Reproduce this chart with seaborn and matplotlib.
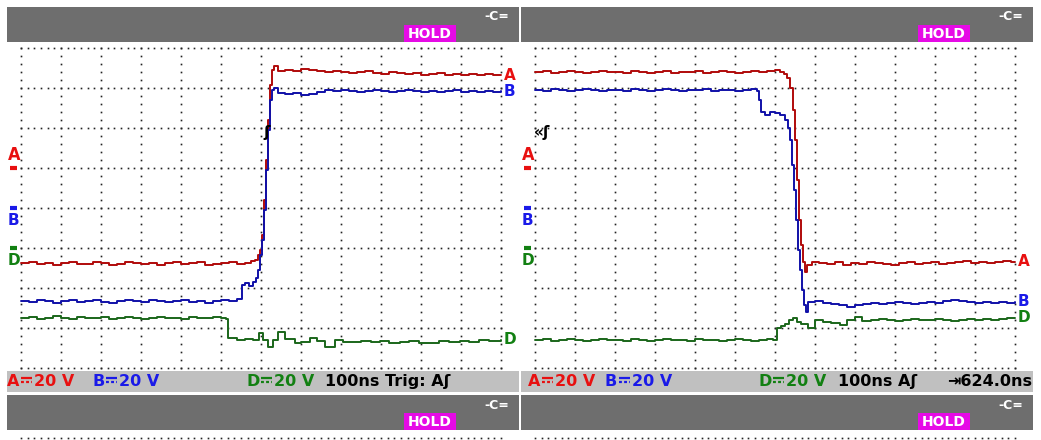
import numpy as np
import pandas as pd
import matplotlib
matplotlib.use("Agg")
import matplotlib.pyplot as plt
import seaborn as sns
from matplotlib.patches import Rectangle
from matplotlib.lines import Line2D

W, H = 1041, 440

# ------------------------------------------------------------------
# Trace data: time in ns (100 ns/div), level in volts (20 V/div)
# ------------------------------------------------------------------
left_a_t = list(range(0, 561, 20)) + [575, 585, 592, 597, 602, 607, 612, 617, 622, 627, 632, 642] \
    + list(range(660, 1201, 20))
left_a_v = [-47.5, -47, -48, -47.5, -48.5, -47.5, -47, -48, -48, -47, -47.5, -48.5, -48, -47, -47.5,
            -48, -47.5, -48.5, -47.5, -47, -48, -47.5, -47, -48.5, -48, -47.5, -47, -48, -47.5,
            -46.5, -46, -43.5, -41, -33.5, -16, 4, 24, 41.5, 49, 51, 48.5,
            49, 48.5, 49.5, 49, 48.5, 48, 48.5, 48, 47.5, 48, 48.5, 47.5, 47, 48, 47.5, 47, 47.5,
            46.5, 47, 47.5, 46.5, 47, 46.5, 47, 46.5, 47, 46.5, 46.5]

left_b_t = list(range(0, 541, 20)) + [552, 560, 570, 580, 587, 592, 597, 602, 607, 612, 617, 622,
                                      627, 632, 642] + list(range(660, 1201, 20))
left_b_v = [-46.5, -47, -46, -46.5, -47.5, -46.5, -46, -47, -46.5, -46, -47, -47.5, -46.5, -46,
            -46.5, -47, -46, -46.5, -47, -46.5, -46, -47, -46.5, -47.5, -46.5, -46, -46.5, -45.5,
            -38.5, -37.5, -39, -37, -35, -31, -23.5, -16, -1, 19, 39, 54, 59, 60, 57.5,
            57, 57.5, 56.5, 57, 58, 59, 58.5, 59, 58.5, 58, 58.5, 59, 58.5, 58, 58.5, 59, 58.5,
            58, 58.5, 58, 58.5, 59, 58, 58.5, 58, 58.5, 58, 58.5]

left_d_t = list(range(0, 501, 20)) + [512, 518, 540, 560, 580, 595, 605, 617, 630, 642, 660, 685,
                                      700, 722, 740, 760, 785, 805, 822, 850, 875, 898, 920, 948,
                                      970, 995, 1022, 1045, 1070, 1098, 1120, 1145, 1170, 1200]
left_d_v = [-35, -34.5, -35.5, -35, -34, -35, -35.5, -34.5, -35, -35, -34.5, -35.5, -35, -34.5,
            -35, -35.5, -35, -34.5, -35, -35, -35.5, -34.5, -35, -35, -34.5, -35,
            -35.5, -45, -46, -45.5, -46, -42.5, -46, -49.5, -46, -42, -45.5, -47.5, -47, -45,
            -46.5, -49.5, -46, -47, -47, -46.5, -47, -46.5, -47.5, -47, -46.5, -47.5, -47.5,
            -46.5, -47, -46.5, -47, -46, -46.5, -46]

right_a_t = list(range(0, 601, 20)) + [612, 622, 630, 637, 645, 650, 655, 660, 665, 670, 675, 680,
                                       692] + list(range(710, 1191, 20)) + [1200]
right_a_v = [48, 48.5, 47.5, 48, 48.5, 48, 47.5, 48, 48.5, 48, 48, 47.5, 48.5, 48, 47.5, 48, 48.5,
             47.5, 48, 48, 48.5, 47.5, 48, 48.5, 48, 47.5, 48, 48.5, 48, 48.5, 49,
             48, 47, 45, 40, 29, 14, -6, -26, -38.5, -47, -52, -48.5, -47,
             -47.5, -48, -47, -48.5, -47.5, -48, -47, -47.5, -48, -48.5, -47.5, -47, -48, -47.5,
             -47, -48, -47.5, -47, -46.5, -47.5, -47, -47.5, -47, -46.5, -47, -47]

right_b_t = list(range(0, 541, 20)) + [555, 560, 565, 575, 587, 600, 612, 625, 632, 637, 642, 647,
                                       652, 657, 662, 667, 672, 677, 682, 700] \
    + list(range(720, 1201, 20))
right_b_v = [59, 58.5, 59.5, 59, 58.5, 59, 59.5, 59, 58.5, 59, 59, 58.5, 59.5, 59, 58.5, 59, 59.5,
             59, 58.5, 59, 59, 59.5, 58.5, 59, 59, 58.5, 59, 59.5,
             58.5, 54, 48, 46.5, 48, 47.5, 46.5, 44, 40, 34, 21.5, 9, -6, -21, -31, -41, -48.5,
             -52, -47, -46.5,
             -47.5, -48, -48.5, -49.5, -48.5, -48, -47.5, -48, -47.5, -47, -47.5, -48, -47.5,
             -47, -47.5, -46.5, -46, -46.5, -47, -47.5, -47, -47.5, -47, -47.5, -47]

right_d_t = list(range(0, 581, 20)) + [595, 605, 615, 625, 635, 645, 655, 665, 682, 700, 720, 740,
                                       762, 780, 800, 818] + list(range(840, 1201, 20))
right_d_v = [-46, -45.5, -46.5, -46, -45.5, -46, -46.5, -46, -45.5, -46, -46, -46.5, -45.5, -46,
             -46.5, -46, -45.5, -46, -46, -46.5, -45.5, -46, -46, -46.5, -46, -45.5, -46, -46.5,
             -46, -45.5,
             -46, -40, -39, -38, -36, -35, -37, -38, -40, -36, -37, -37.5, -38.5, -36, -34.5,
             -36.5,
             -36, -35.5, -36, -36.5, -36, -35.5, -36, -36, -35.5, -36, -36.5, -36, -35.5, -36,
             -35.5, -36, -35.5, -35, -35]

channels = ["A", "B", "D"]
ch_offset = {"A": 5, "B": 4, "D": 3}          # ground marker position (div)
volts_per_div = "20 V"
trace_color = {"A": "#b00a0a", "B": "#1010a8", "D": "#1a661a"}
label_color = {"A": "#e81010", "B": "#1a1ae8", "D": "#128012"}

left_traces = {"A": (left_a_t, left_a_v), "B": (left_b_t, left_b_v), "D": (left_d_t, left_d_v)}
right_traces = {"A": (right_a_t, right_a_v), "B": (right_b_t, right_b_v), "D": (right_d_t, right_d_v)}

# status bar: channel readouts (x px) and timebase text
left_status_x = {"A": 7, "B": 92, "D": 247}
right_status_x = {"A": 528, "B": 605, "D": 759}
left_time = ("100ns Trig: Aʃ", 325)
right_time = ("100ns Aʃ", 838)
right_delay = "⇥624.0ns"

GRAY = "#6e6e6e"
SCREEN = "#f0f0f0"
STATUS = "#c0c0c0"
HOLD_BG = "#e60ae6"

sns.set_theme(style="white")
plt.rcParams["font.family"] = ["DejaVu Sans"]

fig = plt.figure(figsize=(W / 100, H / 100), dpi=100)
fig.patch.set_facecolor("white")


def rect(x0, y0, x1, y1, color):
    fig.add_artist(Rectangle((x0 / W, 1 - y1 / H), (x1 - x0) / W, (y1 - y0) / H,
                             transform=fig.transFigure, facecolor=color, lw=0))


def fline(x0, x1, y, color, **kw):
    fig.add_artist(Line2D([x0 / W, x1 / W], [1 - y / H, 1 - y / H],
                          transform=fig.transFigure, color=color, **kw))


def ftext(x, y, s, **kw):
    fig.text(x / W, 1 - y / H, s, **kw)


def add_axes(x0, y0, x1, y1):
    ax = fig.add_axes([x0 / W, 1 - y1 / H, (x1 - x0) / W, (y1 - y0) / H])
    ax.set_facecolor(SCREEN)
    ax.set_axis_off()
    ax.patch.set_visible(True)
    return ax


def header(x0, y_top):
    rect(x0, y_top, x0 + 512, y_top + 35, GRAY)
    rect(x0 + 397, y_top + 18, x0 + 449, y_top + 35, HOLD_BG)
    ftext(x0 + 423, y_top + 27, "HOLD", color="white", fontsize=10, fontweight="bold",
          ha="center", va="center")
    ftext(x0 + 490, y_top + 10, "-C=", color="white", fontsize=9, fontweight="bold",
          ha="center", va="center")


def readout(ch, x, color):
    # "A⎓20 V" -- the DC sign (solid bar over dashed bar) has no installed glyph
    ftext(x, 386, ch, color=color, fontsize=11.5, fontweight="bold", ha="left", va="baseline")
    fline(x + 14, x + 25, 377.5, color, lw=1.6, solid_capstyle="butt")
    fline(x + 14, x + 25, 381.5, color, lw=1.6, ls=(0, (1.3, 1.0)), dash_capstyle="butt")
    ftext(x + 27, 386, volts_per_div, color=color, fontsize=11.5, fontweight="bold",
          ha="left", va="baseline")


xs_major = np.arange(0, 1201, 100)
xs_minor = np.arange(0, 1200.1, 100 / 6)
ys_minor = np.arange(0, 8.01, 0.2)


def panel(x0, traces, status_x, time_text, trig_text, trig_t):
    header(x0, 7)
    ax = add_axes(x0, 42, x0 + 512, 371)
    ax.set_xlim(-35, 1245)
    ax.set_ylim(-0.075, 8.15)

    # dotted graticule
    for row in range(9):
        ax.plot(xs_minor, np.full(len(xs_minor), row), ls="none", marker="s", ms=1.2,
                mew=0, color="#222222")
    for col in xs_major:
        ax.plot(np.full(len(ys_minor), col), ys_minor, ls="none", marker="s", ms=1.2,
                mew=0, color="#222222")

    for ch in channels:
        t, v = traces[ch]
        df = pd.DataFrame({"t": t, "y": [ch_offset[ch] + x / 20 for x in v]})
        sns.lineplot(data=df, x="t", y="y", ax=ax, color=trace_color[ch], lw=1.4,
                     drawstyle="steps-post", estimator=None, sort=False, legend=False)
        ax.text(1207, df["y"].iloc[-1], ch, color=label_color[ch], fontsize=11,
                fontweight="bold", ha="left", va="center")
        # ground marker at left edge
        off = ch_offset[ch]
        ax.hlines(off, -27, -10, color=label_color[ch], lw=3)
        if ch == "A":
            ax.text(-18, off + 0.1, ch, color=label_color[ch], fontsize=13, fontweight="bold",
                    fontstretch="condensed", ha="center", va="bottom")
        else:
            ax.text(-18, off - 0.12, ch, color=label_color[ch], fontsize=11, fontweight="bold",
                    ha="center", va="top")

    ax.text(trig_t, 5.9, trig_text, color="black", fontsize=11, fontweight="bold",
            ha="left", va="center")
    ax.set_xlabel("")
    ax.set_ylabel("")

    # status bar
    rect(x0, 371, x0 + 512, 392, STATUS)
    for ch in channels:
        readout(ch, status_x[ch], label_color[ch])
    ftext(time_text[1], 386, time_text[0], color="black", fontsize=11.5, fontweight="bold",
          ha="left", va="baseline")

    # lower (next) screen, only its header visible
    header(x0, 395)
    low = add_axes(x0, 430, x0 + 512, 440)
    low.set_xlim(-35, 1245)
    low.set_ylim(0, 1)
    low.plot(xs_minor, np.full(len(xs_minor), 0.2), ls="none", marker="s", ms=1.2,
             mew=0, color="#222222")


panel(7, left_traces, left_status_x, left_time, "ʃ", 607)
panel(521, right_traces, right_status_x, right_time, "«ʃ", -3)
ftext(1032, 386, right_delay, color="black", fontsize=11.5, fontweight="bold",
      ha="right", va="baseline")

fig.savefig("out.png", dpi=100)
